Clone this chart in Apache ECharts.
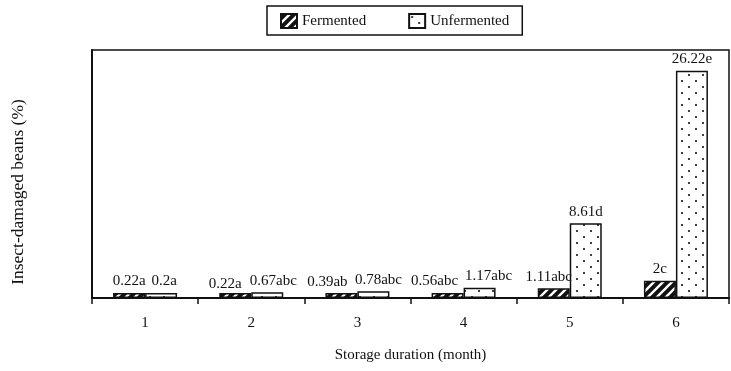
<!DOCTYPE html>
<html>
<head>
<meta charset="utf-8">
<script src="https://cdn.jsdelivr.net/npm/echarts@6/dist/echarts.min.js"></script>
<style>
  html, body { margin: 0; padding: 0; background: #fff; }
  #chart { width: 731px; height: 371px; }
</style>
</head>
<body>
<div id="chart"></div>
<script>
// Storage duration in months
const months = ['1', '2', '3', '4', '5', '6'];

// Insect-damaged beans (%) and significance letters
const fermented = [0.22, 0.22, 0.39, 0.56, 1.11, 2];
const fermentedLetters = ['a', 'a', 'ab', 'abc', 'abc', 'c'];
const unfermented = [0.2, 0.67, 0.78, 1.17, 8.61, 26.22];
const unfermentedLetters = ['a', 'abc', 'abc', 'abc', 'd', 'e'];

const FONT = 'Liberation Serif';

// Horizontal nudges [dx, dy] so neighbouring value labels don't collide
const fermentedNudge = [[0, 0], [-10, 3], [-14, 1], [-13, 0], [-5, 0], [0, 0]];
const unfermentedNudge = [[3, 0], [6, 0], [5, 0], [9, 0], [0, 0], [0, 0]];

// Diagonal hatch tile: dark ground with light "/" stripes
function hatchTile() {
  const s = 9;
  const c = document.createElement('canvas');
  c.width = s; c.height = s;
  const g = c.getContext('2d');
  g.fillStyle = '#111';
  g.fillRect(0, 0, s, s);
  g.strokeStyle = '#fff';
  g.lineWidth = 2.4;
  g.beginPath();
  g.moveTo(-2, s + 2); g.lineTo(s + 2, -2);
  g.moveTo(-2, 2); g.lineTo(2, -2);
  g.moveTo(s - 2, s + 2); g.lineTo(s + 2, s - 2);
  g.stroke();
  return c;
}

// Stippled tile: white ground with sparse staggered dots
function dotTile() {
  const w = 14, h = 12;
  const c = document.createElement('canvas');
  c.width = w; c.height = h;
  const g = c.getContext('2d');
  g.fillStyle = '#fff';
  g.fillRect(0, 0, w, h);
  g.fillStyle = '#111';
  [[3, 3], [10, 9]].forEach(([x, y]) => {
    g.beginPath(); g.arc(x, y, 1.1, 0, Math.PI * 2); g.fill();
  });
  return c;
}

const chart = echarts.init(document.getElementById('chart'), null, { renderer: 'canvas' });

function barData(values, letters, nudges) {
  return values.map((v, i) => ({
    value: v,
    label: { offset: nudges[i] },
    letter: letters[i]
  }));
}

function labelFor(letters) {
  return {
    show: true,
    position: 'top',
    distance: 4,
    fontFamily: FONT,
    fontSize: 15,
    color: '#111',
    formatter: p => p.value + letters[p.dataIndex]
  };
}

chart.setOption({
  animation: false,
  backgroundColor: '#fff',
  textStyle: { fontFamily: FONT, color: '#111' },
  legend: {
    left: 267,
    top: 6,
    padding: [7, 13, 6, 13],
    itemGap: 42,
    itemWidth: 16,
    itemHeight: 14,
    borderColor: '#111',
    borderWidth: 1.5,
    icon: 'rect',
    textStyle: { fontFamily: FONT, fontSize: 15, color: '#111' },
    data: ['Fermented', 'Unfermented']
  },
  grid: {
    left: 92,
    right: 2,
    top: 50,
    bottom: 73,
    show: true,
    borderColor: '#111',
    borderWidth: 1.5
  },
  xAxis: {
    type: 'category',
    data: months,
    name: 'Storage duration (month)',
    nameLocation: 'middle',
    nameGap: 50,
    nameTextStyle: { fontFamily: FONT, fontSize: 15, color: '#111' },
    axisLine: { lineStyle: { color: '#111', width: 2 } },
    axisTick: { show: true, length: 6, lineStyle: { color: '#111', width: 1.5 } },
    axisLabel: { fontFamily: FONT, fontSize: 15, color: '#111', margin: 18 }
  },
  yAxis: {
    type: 'value',
    min: 0,
    max: 28.6,
    axisLine: { show: true, lineStyle: { color: '#111', width: 2 } },
    axisTick: { show: false },
    axisLabel: { show: false },
    splitLine: { show: false }
  },
  graphic: [{
    type: 'text',
    x: 18,
    y: 192,
    rotation: Math.PI / 2,
    style: {
      text: 'Insect-damaged beans (%)',
      fontFamily: FONT,
      fontSize: 17.5,
      fill: '#111',
      align: 'center',
      verticalAlign: 'middle'
    }
  }],
  series: [
    {
      name: 'Fermented',
      type: 'bar',
      data: barData(fermented, fermentedLetters, fermentedNudge),
      barWidth: 32,
      barGap: '0%',
      barMinHeight: 5,
      itemStyle: {
        color: { image: hatchTile(), repeat: 'repeat' },
        borderColor: '#111',
        borderWidth: 1.5
      },
      label: labelFor(fermentedLetters)
    },
    {
      name: 'Unfermented',
      type: 'bar',
      data: barData(unfermented, unfermentedLetters, unfermentedNudge),
      barWidth: 32,
      barGap: '0%',
      barMinHeight: 5,
      itemStyle: {
        color: { image: dotTile(), repeat: 'repeat' },
        borderColor: '#111',
        borderWidth: 1.5
      },
      label: labelFor(unfermentedLetters)
    }
  ]
});
</script>
</body>
</html>
